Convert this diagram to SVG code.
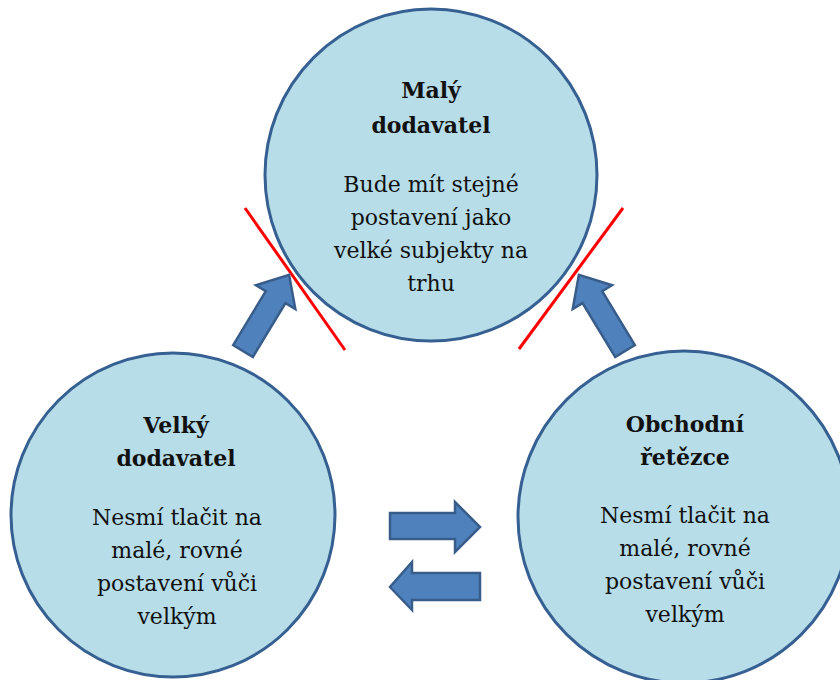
<svg xmlns="http://www.w3.org/2000/svg" width="840" height="680" viewBox="0 0 840 680">
  <style>
    .node { fill: #B7DDE8; stroke: #376092; stroke-width: 3; }
    .title { font-family: "DejaVu Serif", "Liberation Serif", serif; font-size: 22px; font-weight: bold; fill: #111; text-anchor: middle; }
    .body { font-family: "DejaVu Serif", "Liberation Serif", serif; font-size: 22px; fill: #111; text-anchor: middle; }
    .arrow { fill: #4F81BD; stroke: #385D8A; stroke-width: 2.5; stroke-linejoin: miter; }
    .cut { stroke: #FF0000; stroke-width: 3; fill: none; }
  </style>
  <rect width="840" height="680" fill="#FFFFFF"/>

  <g id="node-maly-dodavatel">
    <circle class="node" cx="431" cy="175" r="166"/>
    <text class="title" x="431" y="98">Malý</text>
    <text class="title" x="431" y="133">dodavatel</text>
    <text class="body" x="431" y="192">Bude mít stejné</text>
    <text class="body" x="431" y="225">postavení jako</text>
    <text class="body" x="431" y="258">velké subjekty na</text>
    <text class="body" x="431" y="291">trhu</text>
  </g>

  <g id="node-velky-dodavatel">
    <circle class="node" cx="173" cy="515" r="162"/>
    <text class="title" x="176" y="433">Velký</text>
    <text class="title" x="176" y="466">dodavatel</text>
    <text class="body" x="177" y="525">Nesmí tlačit na</text>
    <text class="body" x="177" y="558">malé, rovné</text>
    <text class="body" x="177" y="591">postavení vůči</text>
    <text class="body" x="177" y="624">velkým</text>
  </g>

  <g id="node-obchodni-retezce">
    <circle class="node" cx="684" cy="517" r="166"/>
    <text class="title" x="685" y="432">Obchodní</text>
    <text class="title" x="685" y="465">řetězce</text>
    <text class="body" x="685" y="523">Nesmí tlačit na</text>
    <text class="body" x="685" y="556">malé, rovné</text>
    <text class="body" x="685" y="589">postavení vůči</text>
    <text class="body" x="685" y="622">velkým</text>
  </g>

  <g id="cuts">
    <line class="cut" x1="245" y1="208" x2="345" y2="350"/>
    <line class="cut" x1="623" y1="208" x2="519" y2="349"/>
  </g>

  <g id="connectors">
    <polygon class="arrow" transform="translate(243,351) rotate(-58.8)" points="0,-11.5 63,-11.5 63,-23 89,0 63,23 63,11.5 0,11.5"/>
    <polygon class="arrow" transform="translate(625,351) rotate(-121.2)" points="0,-11.5 63,-11.5 63,-23 89,0 63,23 63,11.5 0,11.5"/>
    <polygon class="arrow" points="390,513 455,513 455,502 480,527 455,552 455,539 390,539"/>
    <polygon class="arrow" points="480,573 412,573 412,562 390,587 412,610 412,600 480,600"/>
  </g>
</svg>
